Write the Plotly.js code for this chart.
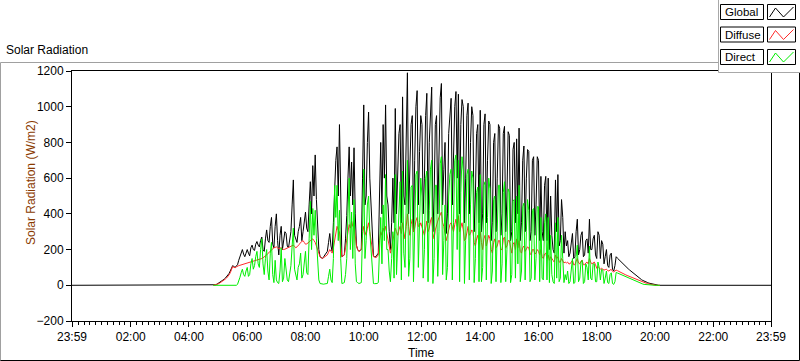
<!DOCTYPE html>
<html>
<head>
<meta charset="utf-8">
<script src="https://cdn.plot.ly/plotly-3.0.1.min.js"></script>
<style>html,body{margin:0;padding:0;background:#fff;}#chart{width:800px;height:361px;}</style>
</head>
<body>
<div id="chart"></div>
<script>
// ---- data (W/m2), 2.5-minute samples from 04:50 to 20:10; zero outside ----
const sampleStart = "04:50";
const sampleStepMin = 2.5;

const globalRad = [
  0, 1, 3, 6,
  10,14,18,23,28,34,40,47,55,66,80,95,110,105,100,108,115,140,165,190,200,175,160,180,
  200,180,165,210,225,200,195,230,245,225,215,250,270,200,190,260,310,250,240,330,380,230,210,330,
  400,250,170,280,330,200,240,300,290,220,210,260,300,450,590,280,260,240,300,330,380,250,300,360,
  410,320,300,450,580,400,670,500,730,480,300,200,160,155,150,160,170,180,190,240,290,220,190,350,
  580,700,775,500,900,400,160,165,170,260,390,600,775,500,690,450,770,400,225,200,190,195,200,600,
  1010,450,500,800,970,600,420,250,165,160,160,170,180,500,800,400,900,600,1010,500,450,300,200,350,
  600,350,990,400,650,850,900,350,1055,500,450,800,1190,400,600,900,950,300,700,1000,1090,450,750,950,
  900,400,600,950,1075,350,800,1000,1110,300,500,900,950,400,700,1050,1130,450,650,800,290,400,850,950,
  1047,450,700,1000,1085,600,1070,400,900,1040,1000,350,600,950,1020,400,800,1000,950,300,500,850,900,350,
  980,300,400,900,960,350,700,920,900,250,350,800,850,300,600,900,880,280,400,850,890,300,500,860,
  840,250,300,760,800,350,820,400,880,250,350,700,780,300,600,760,750,250,300,700,720,280,450,720,
  700,250,610,300,250,560,610,250,600,200,500,280,200,180,590,300,620,220,250,480,380,180,300,220,
  250,160,180,240,290,150,160,300,370,170,200,280,300,160,170,250,260,180,370,200,200,260,280,170,
  150,300,280,150,250,230,120,160,200,110,100,170,180,90,80,110,160,152,145,138,130,122,115,109,
  103,97,92,86,80,74,68,62,57,51,45,40,35,31,27,23,20,17,15,12,10,8,6,4,
  3, 2, 1, 0, 0
];

const diffuseRad = [
  0, 1, 2, 5,
  8,11,15,20,25,30,35,41,48,58,70,88,105,101,98,103,108,110,112,114,115,117,118,120,
  122,124,126,128,130,133,135,138,140,141,142,146,150,154,158,164,170,178,185,192,200,205,210,212,
  215,210,205,208,210,204,200,202,205,208,210,212,215,220,225,218,210,215,220,230,240,245,250,240,
  230,232,235,242,250,255,260,250,240,220,200,180,160,155,150,155,160,165,170,185,200,190,180,210,
  250,300,330,310,300,220,160,165,170,210,250,300,340,320,360,330,350,280,220,200,190,195,200,280,
  330,300,280,320,350,300,260,200,160,158,155,160,170,250,300,280,320,300,330,290,260,220,180,220,
  250,280,320,300,280,310,330,290,350,300,260,330,400,330,280,340,370,300,320,360,380,330,330,350,
  330,300,280,320,360,300,320,360,380,290,260,310,340,360,380,400,410,350,330,290,250,280,320,340,
  350,320,300,340,370,330,390,300,330,350,310,250,260,300,330,280,290,310,300,240,220,260,280,230,
  300,240,200,260,280,220,250,280,260,200,180,240,260,210,220,250,250,200,200,260,270,210,220,250,
  250,200,180,230,240,200,260,210,250,190,180,210,220,190,200,215,210,180,170,200,200,175,180,200,
  190,170,200,160,150,175,180,150,170,140,160,145,140,130,170,150,160,130,130,150,140,125,130,125,
  130,120,120,130,140,115,115,135,150,125,120,135,140,115,115,125,130,120,150,130,120,125,130,115,
  95,105,100,90,95,92,85,88,90,82,80,86,88,78,75,80,85,82,78,74,70,67,64,61,
  58,55,52,49,46,43,40,37,34,31,28,25,23,20,18,15,13,11,9,7,6,4,3,2,
  1, 0, 0, 0, 0
];

const directRad = [
  0, 0, 0, 0,
  0,0,0,0,0,0,0,0,0,0,0,0,0,0,0,0,5,20,45,70,90,60,50,80,
  100,50,60,120,150,90,110,160,190,120,100,200,260,120,60,150,200,80,30,180,240,60,15,140,
  30,15,10,80,210,20,40,150,90,30,20,60,110,220,320,90,50,30,100,120,180,40,60,150,
  190,70,60,260,470,200,430,280,420,260,120,30,10,8,5,6,8,9,10,50,90,30,15,150,
  560,380,560,250,420,150,10,12,15,60,150,400,600,200,410,150,480,120,20,15,10,12,15,300,
  650,150,250,450,500,300,200,60,10,9,8,10,15,200,380,120,450,250,620,200,200,80,20,150,
  300,40,620,60,250,500,580,30,640,180,100,450,700,50,150,550,560,20,300,620,640,100,350,600,
  500,40,200,600,640,20,420,650,700,10,150,560,560,50,300,680,720,60,250,450,30,100,500,620,
  650,30,350,700,730,200,700,20,520,720,640,10,250,620,650,30,450,640,600,15,150,520,550,20,
  620,20,100,560,580,30,380,600,540,10,80,480,500,20,300,560,560,15,120,520,580,20,200,540,
  520,15,60,470,480,40,500,120,560,20,80,440,460,30,300,480,420,20,40,420,430,30,150,440,
  440,20,380,40,30,350,400,30,380,15,280,60,20,10,350,40,380,20,40,280,150,15,60,30,
  80,10,20,100,150,10,15,160,225,20,40,130,140,10,20,120,100,30,220,40,30,120,120,20,
  20,130,100,30,90,85,10,40,80,15,10,60,70,10,5,20,72,69,66,63,60,56,52,48,
  45,42,40,37,34,31,28,25,22,19,16,13,11,9,7,5,4,3,2,1,0,0,0,0,
  0, 0, 0, 0, 0
];

const xTickLabels = ["23:59","02:00","04:00","06:00","08:00","10:00","12:00","14:00","16:00","18:00","20:00","22:00","23:59"];
const yTickValues = [-200, 0, 200, 400, 600, 800, 1000, 1200];
const seriesNames = ["Global", "Diffuse", "Direct"];
const seriesColors = ["#000000", "#ff2a2a", "#00ee00"];

// ---- helpers: clock time -> minutes after 23:59 of previous day ----
function clockToMin(s) {
  if (s === "23:59") return 0;
  const [h, m] = s.split(":").map(Number);
  return h * 60 + m + 1;
}
const dayEnd = 1440;
const t0 = clockToMin(sampleStart);
const sampleX = globalRad.map((_, i) => t0 + i * sampleStepMin);

const tickVals = xTickLabels.map((s, i) => i === xTickLabels.length - 1 ? dayEnd : clockToMin(s));

// Global carries the night-time zero baseline across the whole day
const traces = [globalRad, diffuseRad, directRad].map((arr, k) => ({
  type: "scatter", mode: "lines", name: seriesNames[k],
  x: k === 0 ? [0].concat(sampleX, [dayEnd]) : sampleX,
  y: k === 0 ? [0].concat(arr, [0]) : arr,
  line: {color: seriesColors[k], width: 1},
  hoverinfo: "skip"
}));

// ---- pixel helpers for decorations ----
const L = 72, R = 771, T = 71, B = 321;
const px = v => (v - L) / (R - L);
const py = v => (B - v) / (B - T);

const font = {family: "Liberation Sans, Arial, sans-serif", size: 12, color: "#000"};

const shapes = [];
function line(x0, y0, x1, y1, color) {
  shapes.push({type: "line", xref: "paper", yref: "paper", layer: "above",
    x0: px(x0), y0: py(y0), x1: px(x1), y1: py(y1), line: {color: color, width: 1}});
}
function rect(x0, y0, x1, y1, color, fill) {
  shapes.push({type: "rect", xref: "paper", yref: "paper", layer: "above",
    x0: px(x0), y0: py(y0), x1: px(x1), y1: py(y1), line: {color: color, width: 1}, fillcolor: fill});
}
// outer frame
line(0.5, 62.5, 718, 62.5, "#a0a0a0");
line(0.5, 62.5, 0.5, 361, "#a0a0a0");
line(0.5, 360.5, 799.5, 360.5, "#000");
line(799.5, 72, 799.5, 360.5, "#000");
// legend panel
rect(718.5, -2, 802, 72.5, "#a8a8a8", "#ffffff");

const annotations = [
  {text: "Solar Radiation", xref: "paper", yref: "paper", x: px(4), y: py(50), xanchor: "left", yanchor: "middle", showarrow: false, font: font},
  {text: "Solar Radiation (W/m2)", xref: "paper", yref: "paper", x: px(31), y: py(183), xanchor: "center", yanchor: "middle", textangle: -90, showarrow: false, font: Object.assign({}, font, {color: "#8a3a00"})},
  {text: "Time", xref: "paper", yref: "paper", x: px(421), y: py(353), xanchor: "center", yanchor: "middle", showarrow: false, font: font}
];

const rowTops = [4.5, 27, 49.5];
seriesNames.forEach((name, k) => {
  const y0 = rowTops[k], y1 = y0 + 15;
  rect(720.5, y0, 763.5, y1, "#000", "#ffffff");
  rect(767.5, y0, 795.5, y1, "#000", "#ffffff");
  const pts = [[769.5, y1 - 2.5], [775.5, y0 + 3.5], [783.5, y1 - 2.5], [793.5, y0 + 2.5]];
  const path = "M" + pts.map(p => px(p[0]) + "," + py(p[1])).join(" L");
  shapes.push({type: "path", xref: "paper", yref: "paper", layer: "above", path: path,
    line: {color: seriesColors[k], width: 1}});
  annotations.push({text: name, xref: "paper", yref: "paper", x: px(722.5), y: py((y0 + y1) / 2), xanchor: "left", yanchor: "middle", showarrow: false, font: Object.assign({}, font, {size: 11.5})});
});

const layout = {
  width: 800, height: 361,
  margin: {l: L, r: 800 - R, t: T, b: 361 - B, pad: 0},
  paper_bgcolor: "#ffffff", plot_bgcolor: "#ffffff",
  showlegend: false,
  font: font,
  xaxis: {
    range: [0, dayEnd], tickmode: "array", tickvals: tickVals, ticktext: xTickLabels,
    ticks: "outside", ticklen: 5, tickcolor: "#000", tickwidth: 1,
    showline: true, linecolor: "#000", linewidth: 1, mirror: true,
    showgrid: false, zeroline: false, tickfont: font,
    minor: {tick0: 1, dtick: 12, ticks: "outside", ticklen: 3, tickcolor: "#000", showgrid: false}
  },
  yaxis: {
    range: [-200, 1200], tickmode: "array", tickvals: yTickValues,
    ticks: "outside", ticklen: 5, tickcolor: "#000", tickwidth: 1,
    showline: true, linecolor: "#000", linewidth: 1, mirror: true,
    showgrid: false, zeroline: false, tickfont: font
  },
  shapes: shapes,
  annotations: annotations
};

Plotly.newPlot("chart", traces, layout, {displayModeBar: false, staticPlot: true});
</script>
</body>
</html>
